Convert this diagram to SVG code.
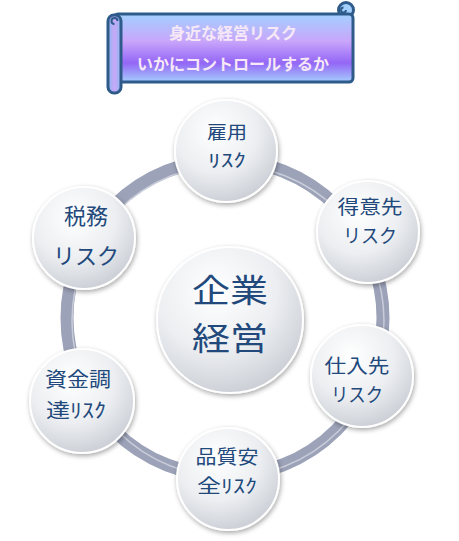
<svg xmlns="http://www.w3.org/2000/svg" width="459" height="541" viewBox="0 0 459 541">
<style>
.node{fill:url(#ball);stroke:#ffffff;stroke-width:2;filter:url(#sh)}
.t{font-family:"Noto Sans CJK JP","Noto Sans",sans-serif;fill:#22497c;text-anchor:middle;dominant-baseline:central;font-size:21px}
.big{font-size:32px}
.ban{font-family:"Noto Sans CJK JP","Noto Sans",sans-serif;fill:#f6e8f6;text-anchor:middle;dominant-baseline:central;font-size:16px;font-weight:bold}
</style>
<defs>
<radialGradient id="ball" cx="0.4" cy="0.3" r="0.75">
<stop offset="0" stop-color="#ffffff"/>
<stop offset="0.55" stop-color="#eceef1"/>
<stop offset="1" stop-color="#c8ccd3"/>
</radialGradient>
<linearGradient id="banner" x1="0" y1="0" x2="0" y2="1">
<stop offset="0" stop-color="#a3d0ff"/>
<stop offset="0.4" stop-color="#c9a6fb"/>
<stop offset="0.72" stop-color="#9466f6"/>
<stop offset="1" stop-color="#a4cdfd"/>
</linearGradient>
<linearGradient id="roll" x1="0" y1="0" x2="1" y2="0">
<stop offset="0" stop-color="#8fb8f0"/>
<stop offset="0.5" stop-color="#c7a8f8"/>
<stop offset="1" stop-color="#8fb8f0"/>
</linearGradient>
<filter id="sh" x="-20%" y="-20%" width="140%" height="140%">
<feGaussianBlur in="SourceAlpha" stdDeviation="2.5"/>
<feOffset dx="1" dy="2" result="b"/>
<feComponentTransfer><feFuncA type="linear" slope="0.35"/></feComponentTransfer>
<feMerge><feMergeNode/><feMergeNode in="SourceGraphic"/></feMerge>
</filter>
</defs>

<g id="banner-title">
<circle cx="346" cy="10" r="7.5" fill="#a3d0ff" stroke="#2f5b8a" stroke-width="3"/>
<rect x="114" y="14" width="239" height="68" rx="4" fill="url(#banner)" stroke="#2f5b8a" stroke-width="3"/>
<path d="M346 10 a2.5 2.5 0 1 1 -2.5 -2.5" fill="none" stroke="#2f5b8a" stroke-width="2"/>
<rect x="108" y="15" width="13" height="78" rx="6" fill="url(#roll)" stroke="#2f5b8a" stroke-width="3"/>
<path d="M114.5 24 a3 3 0 1 1 3 -3" fill="none" stroke="#2f5b8a" stroke-width="2"/>
<text class="ban"><tspan x="233" y="32">身近な経営リスク</tspan><tspan x="233" y="63">いかにコントロールするか</tspan></text>
</g>

<g id="connectors">
<circle cx="225" cy="318" r="158" fill="none" stroke="#9ca2b8" stroke-width="13"/>
<circle cx="228" cy="321" r="156" fill="none" stroke="#c9cdd9" stroke-width="1.5"/>
</g>

<g id="center">
<circle class="node" cx="230" cy="320" r="73"/>
<text class="t big"><tspan x="230" y="288" textLength="76" lengthAdjust="spacingAndGlyphs">企業</tspan><tspan x="230" y="336" textLength="76" lengthAdjust="spacingAndGlyphs">経営</tspan></text>
</g>

<g id="koyou">
<circle class="node" cx="226" cy="151" r="51"/>
<text class="t" style="font-size:18px"><tspan x="227" y="131" textLength="40" lengthAdjust="spacingAndGlyphs">雇用</tspan><tspan x="227" y="159" textLength="38" lengthAdjust="spacingAndGlyphs">ﾘｽｸ</tspan></text>
</g>

<g id="tokuisaki">
<circle class="node" cx="368" cy="232" r="51"/>
<text class="t" style="font-size:19px"><tspan x="370" y="205" textLength="65" lengthAdjust="spacingAndGlyphs">得意先</tspan><tspan x="370" y="234" textLength="54" lengthAdjust="spacingAndGlyphs">リスク</tspan></text>
</g>

<g id="shiiresaki">
<circle class="node" cx="362" cy="376" r="51"/>
<text class="t" style="font-size:19px"><tspan x="357" y="364" textLength="65" lengthAdjust="spacingAndGlyphs">仕入先</tspan><tspan x="357" y="393" textLength="52" lengthAdjust="spacingAndGlyphs">リスク</tspan></text>
</g>

<g id="hinshitsu">
<circle class="node" cx="228" cy="479" r="51"/>
<text class="t" style="font-size:19px"><tspan x="227" y="455" textLength="63" lengthAdjust="spacingAndGlyphs">品質安</tspan><tspan x="227" y="484" textLength="60" lengthAdjust="spacingAndGlyphs">全ﾘｽｸ</tspan></text>
</g>

<g id="shikin">
<circle class="node" cx="82" cy="401" r="52"/>
<text class="t" style="font-size:20px"><tspan x="78" y="378" textLength="66" lengthAdjust="spacingAndGlyphs">資金調</tspan><tspan x="76" y="409" textLength="60" lengthAdjust="spacingAndGlyphs">達ﾘｽｸ</tspan></text>
</g>

<g id="zeimu">
<circle class="node" cx="84" cy="238" r="51"/>
<text class="t" style="font-size:22px"><tspan x="86" y="214">税務</tspan><tspan x="86" y="254">リスク</tspan></text>
</g>
</svg>
